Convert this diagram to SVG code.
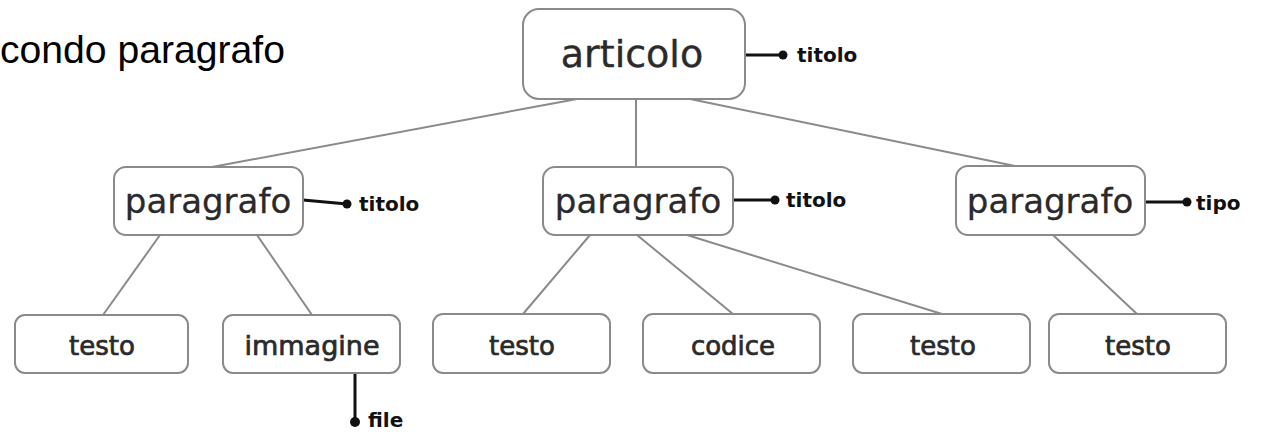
<svg xmlns="http://www.w3.org/2000/svg" width="1265" height="432" viewBox="0 0 1265 432">
<style>
.box{fill:#fff;stroke:#8a8a8a;stroke-width:2}
.lbl{font-family:"DejaVu Sans",sans-serif;fill:#2a2a2a;text-anchor:middle}
.big{font-size:38px;stroke:#2a2a2a;stroke-width:0.4}
.mid{font-size:34px;stroke:#2a2a2a;stroke-width:0.3}
.sm{font-size:26px;stroke:#2a2a2a;stroke-width:0.7}
.att{font-family:"DejaVu Sans",sans-serif;font-size:20px;font-weight:bold;fill:#111}
.edge{stroke:#8a8a8a;stroke-width:2;fill:none}
.attl{stroke:#111;stroke-width:3;fill:none}
.dot{fill:#111}
</style>
<rect width="1265" height="432" fill="#fff"/>
<text x="0" y="63" font-family="Liberation Sans, Arial, sans-serif" font-size="38.5" fill="#000" textLength="285" lengthAdjust="spacingAndGlyphs">condo paragrafo</text>
<g id="connectors">
<line class="edge" x1="577" y1="99" x2="212" y2="167"/>
<line class="edge" x1="636" y1="99" x2="636" y2="167"/>
<line class="edge" x1="690" y1="99" x2="1015" y2="166"/>
<line class="edge" x1="160" y1="235" x2="103" y2="315"/>
<line class="edge" x1="257" y1="235" x2="312" y2="315"/>
<line class="edge" x1="590" y1="235" x2="523" y2="314"/>
<line class="edge" x1="637" y1="235" x2="733" y2="314"/>
<line class="edge" x1="687" y1="235" x2="942" y2="314"/>
<line class="edge" x1="1053" y1="235" x2="1137" y2="314"/>
<line class="attl" x1="745" y1="55" x2="783" y2="55"/>
<line class="attl" x1="303" y1="200" x2="347" y2="204"/>
<line class="attl" x1="733" y1="200" x2="775" y2="200"/>
<line class="attl" x1="1145" y1="202" x2="1187" y2="202"/>
<line class="attl" x1="355" y1="373" x2="355" y2="422"/>
</g>
<g id="articolo">
<rect class="box" x="523" y="9" width="222" height="90" rx="16"/>
<text class="lbl big" x="632" y="67">articolo</text>
<circle class="dot" cx="783" cy="55" r="4.5"/>
<text class="att" x="797" y="62">titolo</text>
</g>
<g id="paragrafo1">
<rect class="box" x="114" y="167" width="189" height="68" rx="12"/>
<text class="lbl mid" x="208" y="213">paragrafo</text>
<circle class="dot" cx="347" cy="204" r="4.5"/>
<text class="att" x="359" y="211">titolo</text>
</g>
<g id="paragrafo2">
<rect class="box" x="543" y="167" width="190" height="68" rx="12"/>
<text class="lbl mid" x="638" y="213">paragrafo</text>
<circle class="dot" cx="775" cy="200" r="4.5"/>
<text class="att" x="786" y="207">titolo</text>
</g>
<g id="paragrafo3">
<rect class="box" x="956" y="166" width="189" height="69" rx="12"/>
<text class="lbl mid" x="1050" y="213">paragrafo</text>
<circle class="dot" cx="1187" cy="202" r="4.5"/>
<text class="att" x="1196" y="210" font-size="21">tipo</text>
</g>
<g id="testo1">
<rect class="box" x="15" y="315" width="173" height="58" rx="10"/>
<text class="lbl sm" x="102" y="355">testo</text>
</g>
<g id="immagine">
<rect class="box" x="223" y="315" width="177" height="58" rx="10"/>
<text class="lbl sm" x="312" y="355" textLength="135" lengthAdjust="spacingAndGlyphs">immagine</text>
<circle class="dot" cx="355" cy="422" r="5"/>
<text class="att" x="368" y="427" font-size="17">file</text>
</g>
<g id="testo2">
<rect class="box" x="433" y="314" width="177" height="59" rx="10"/>
<text class="lbl sm" x="522" y="355">testo</text>
</g>
<g id="codice">
<rect class="box" x="643" y="314" width="177" height="59" rx="10"/>
<text class="lbl sm" x="733" y="355">codice</text>
</g>
<g id="testo3">
<rect class="box" x="853" y="314" width="177" height="59" rx="10"/>
<text class="lbl sm" x="943" y="355">testo</text>
</g>
<g id="testo4">
<rect class="box" x="1049" y="314" width="177" height="59" rx="10"/>
<text class="lbl sm" x="1138" y="355">testo</text>
</g>
</svg>
